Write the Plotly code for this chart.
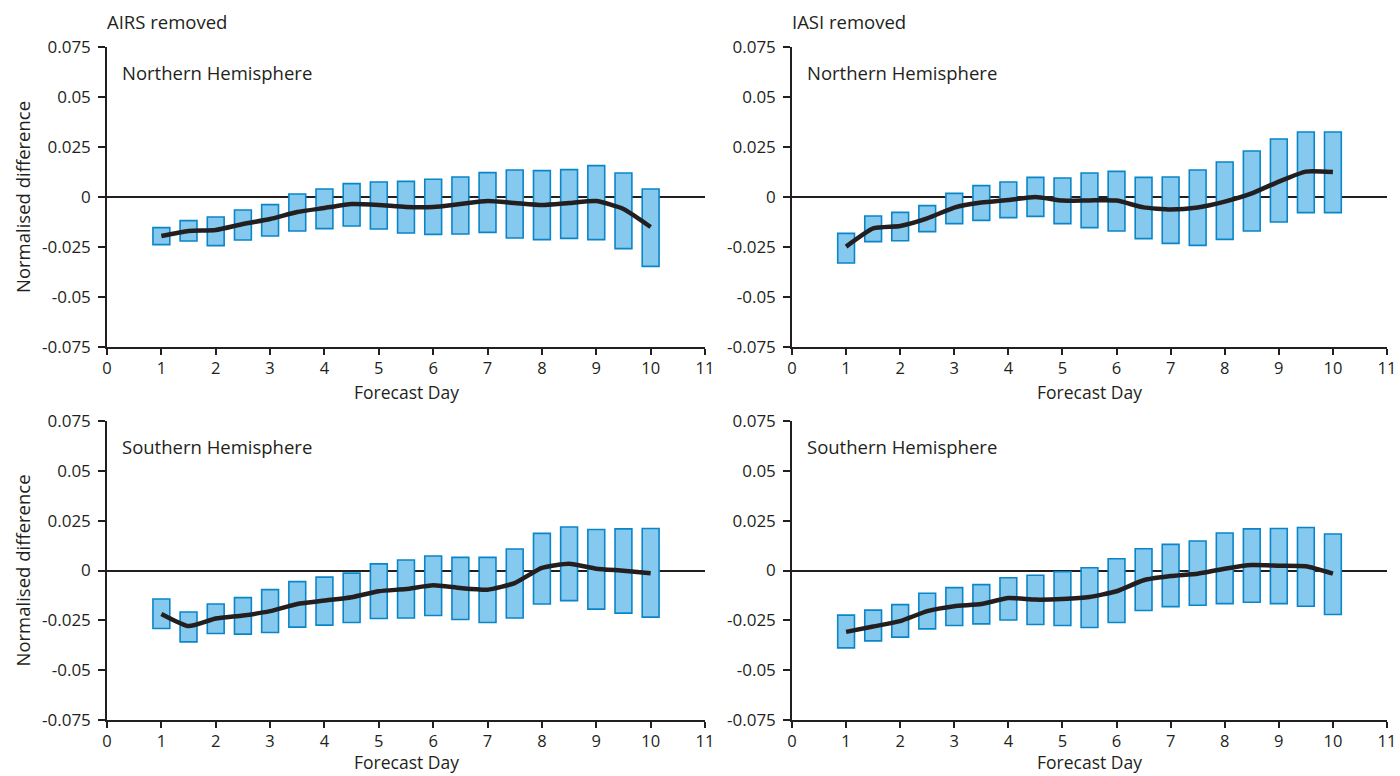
import plotly.graph_objects as go

days = [1, 1.5, 2, 2.5, 3, 3.5, 4, 4.5, 5, 5.5, 6, 6.5, 7, 7.5, 8, 8.5, 9, 9.5, 10]

# AIRS removed, Northern Hemisphere
airs_nh_top = [-0.0153, -0.0118, -0.0100, -0.0065, -0.0038, 0.0015, 0.0040, 0.0067, 0.0075, 0.0078,
               0.0089, 0.0100, 0.0122, 0.0135, 0.0132, 0.0137, 0.0157, 0.0120, 0.0040]
airs_nh_bot = [-0.0238, -0.0220, -0.0243, -0.0215, -0.0195, -0.0170, -0.0158, -0.0145, -0.0160, -0.0180,
               -0.0187, -0.0185, -0.0177, -0.0205, -0.0213, -0.0207, -0.0213, -0.0258, -0.0347]
airs_nh_mean = [-0.0195, -0.0170, -0.0165, -0.0135, -0.0110, -0.0075, -0.0055, -0.0035, -0.0040, -0.0050,
                -0.0050, -0.0035, -0.0020, -0.0030, -0.0040, -0.0030, -0.0020, -0.0060, -0.0150]

# IASI removed, Northern Hemisphere
iasi_nh_top = [-0.0182, -0.0095, -0.0077, -0.0043, 0.0018, 0.0057, 0.0075, 0.0098, 0.0095, 0.0120,
               0.0128, 0.0098, 0.0100, 0.0135, 0.0175, 0.0230, 0.0290, 0.0325, 0.0325]
iasi_nh_bot = [-0.0330, -0.0223, -0.0219, -0.0173, -0.0133, -0.0117, -0.0103, -0.0097, -0.0133, -0.0153,
               -0.0170, -0.0208, -0.0232, -0.0242, -0.0212, -0.0170, -0.0125, -0.0078, -0.0078]
iasi_nh_mean = [-0.0248, -0.0157, -0.0145, -0.0107, -0.0053, -0.0028, -0.0015, 0.0000, -0.0018, -0.0017,
                -0.0018, -0.0052, -0.0062, -0.0052, -0.0023, 0.0018, 0.0077, 0.0127, 0.0125]

# AIRS removed, Southern Hemisphere
airs_sh_top = [-0.0143, -0.0208, -0.0168, -0.0136, -0.0096, -0.0056, -0.0033, -0.0013, 0.0033, 0.0053,
               0.0073, 0.0066, 0.0066, 0.0108, 0.0186, 0.0218, 0.0206, 0.0209, 0.0211]
airs_sh_bot = [-0.0291, -0.0358, -0.0316, -0.0319, -0.0311, -0.0284, -0.0274, -0.0261, -0.0241, -0.0238,
               -0.0226, -0.0246, -0.0261, -0.0238, -0.0168, -0.0151, -0.0194, -0.0214, -0.0234]
airs_sh_mean = [-0.0218, -0.0279, -0.0241, -0.0226, -0.0204, -0.0168, -0.0151, -0.0134, -0.0104, -0.0093,
                -0.0074, -0.0088, -0.0096, -0.0063, 0.0013, 0.0034, 0.0009, -0.0001, -0.0014]

# IASI removed, Southern Hemisphere
iasi_sh_top = [-0.0224, -0.0199, -0.0171, -0.0114, -0.0086, -0.0071, -0.0036, -0.0024, -0.0006, 0.0014,
               0.0059, 0.0109, 0.0131, 0.0148, 0.0188, 0.0209, 0.0211, 0.0216, 0.0183]
iasi_sh_bot = [-0.0388, -0.0353, -0.0334, -0.0293, -0.0276, -0.0268, -0.0248, -0.0271, -0.0276, -0.0286,
               -0.0261, -0.0201, -0.0181, -0.0174, -0.0166, -0.0159, -0.0166, -0.0179, -0.0221]
iasi_sh_mean = [-0.0308, -0.0281, -0.0254, -0.0204, -0.0179, -0.0168, -0.0138, -0.0146, -0.0143, -0.0133,
                -0.0104, -0.0049, -0.0028, -0.0016, 0.0009, 0.0027, 0.0024, 0.0021, -0.0016]

y_ticks = [0.075, 0.05, 0.025, 0, -0.025, -0.05, -0.075]
y_tick_labels = ["0.075", "0.05", "0.025", "0", "-0.025", "-0.05", "-0.075"]
x_ticks = list(range(0, 12))

column_titles = ["AIRS removed", "IASI removed"]
row_titles = ["Northern Hemisphere", "Southern Hemisphere"]
x_title = "Forecast Day"
y_title = "Normalised difference"

panels = [
    (airs_nh_top, airs_nh_bot, airs_nh_mean),
    (iasi_nh_top, iasi_nh_bot, iasi_nh_mean),
    (airs_sh_top, airs_sh_bot, airs_sh_mean),
    (iasi_sh_top, iasi_sh_bot, iasi_sh_mean),
]

W, H = 1400, 776
x_doms = [[107 / W, 705 / W], [792 / W, 1387 / W]]
y_doms = [[1 - 347 / H, 1 - 47 / H], [1 - 720 / H, 1 - 421 / H]]

FONT = "Open Sans"
INK = "#231F20"
BAR_FILL = "#86C9EE"
BAR_EDGE = "#0A86C8"
TICK_SIZE = 17
XTICK_SIZE = 16.5
LABEL_SIZE = 18.5
XTITLE_SIZE = 17.5

fig = go.Figure()
layout = dict(
    width=W, height=H,
    margin=dict(l=0, r=0, t=0, b=0, autoexpand=False),
    paper_bgcolor="white", plot_bgcolor="white",
    showlegend=False,
    font=dict(family=FONT, size=16, color=INK),
    annotations=[],
)

for i, (top, bot, mean) in enumerate(panels):
    r, c = divmod(i, 2)
    n = i + 1
    xa = "x" if n == 1 else f"x{n}"
    ya = "y" if n == 1 else f"y{n}"
    heights = [t - b for t, b in zip(top, bot)]
    fig.add_trace(go.Bar(x=days, y=heights, base=bot, width=0.31,
                         marker=dict(color=BAR_FILL, line=dict(color=BAR_EDGE, width=1.6)),
                         xaxis=xa, yaxis=ya, hoverinfo="skip"))
    fig.add_trace(go.Scatter(x=days, y=mean, mode="lines",
                             line=dict(color=INK, width=4.5, shape="spline", smoothing=0.5),
                             xaxis=xa, yaxis=ya, hoverinfo="skip"))
    xkey = "xaxis" if n == 1 else f"xaxis{n}"
    ykey = "yaxis" if n == 1 else f"yaxis{n}"
    layout[xkey] = dict(domain=x_doms[c], anchor=ya, range=[0, 11], tickvals=x_ticks,
                        automargin=False,
                        showgrid=False, zeroline=False, showline=True, linecolor=INK,
                        linewidth=1.5, ticks="outside", ticklen=6, tickwidth=1.5, tickcolor=INK,
                        ticklabelstandoff=-1,
                        tickfont=dict(size=XTICK_SIZE, color=INK), fixedrange=True)
    layout[ykey] = dict(domain=y_doms[r], anchor=xa, range=[-0.075, 0.075],
                        tickvals=y_ticks, ticktext=y_tick_labels, automargin=False,
                        showgrid=False, zeroline=True, zerolinecolor=INK, zerolinewidth=1.5,
                        showline=True, linecolor=INK, linewidth=1.5,
                        ticks="outside", ticklen=7, tickwidth=1.5, tickcolor=INK,
                        ticklabelstandoff=4,
                        tickfont=dict(size=TICK_SIZE, color=INK), fixedrange=True)
    xd, yd = x_doms[c], y_doms[r]
    # panel label
    layout["annotations"].append(dict(text=row_titles[r], x=xd[0] + 13 / W, y=yd[1] - 11 / H,
                                      xref="paper", yref="paper", xanchor="left", yanchor="top",
                                      showarrow=False, font=dict(size=LABEL_SIZE, color=INK)))
    # x title
    if r == 0:
        xt = dict(y=yd[0] - 31 / H, yanchor="top")
    else:
        xt = dict(y=0, yanchor="bottom")
    layout["annotations"].append(dict(text=x_title, x=(xd[0] + xd[1]) / 2,
                                      xref="paper", yref="paper", xanchor="center",
                                      showarrow=False, font=dict(size=XTITLE_SIZE, color=INK), **xt))
    if c == 0:
        layout["annotations"].append(dict(text=y_title, x=22 / W, y=(yd[0] + yd[1]) / 2,
                                          xref="paper", yref="paper", xanchor="center", yanchor="middle",
                                          textangle=-90, showarrow=False,
                                          font=dict(size=LABEL_SIZE, color=INK)))
    if r == 0:
        layout["annotations"].append(dict(text=column_titles[c], x=xd[0] - 2 / W, y=yd[1] + 11 / H,
                                          xref="paper", yref="paper", xanchor="left", yanchor="bottom",
                                          showarrow=False, font=dict(size=LABEL_SIZE, color=INK)))

fig.update_layout(**layout)
fig.write_html("out.html")
